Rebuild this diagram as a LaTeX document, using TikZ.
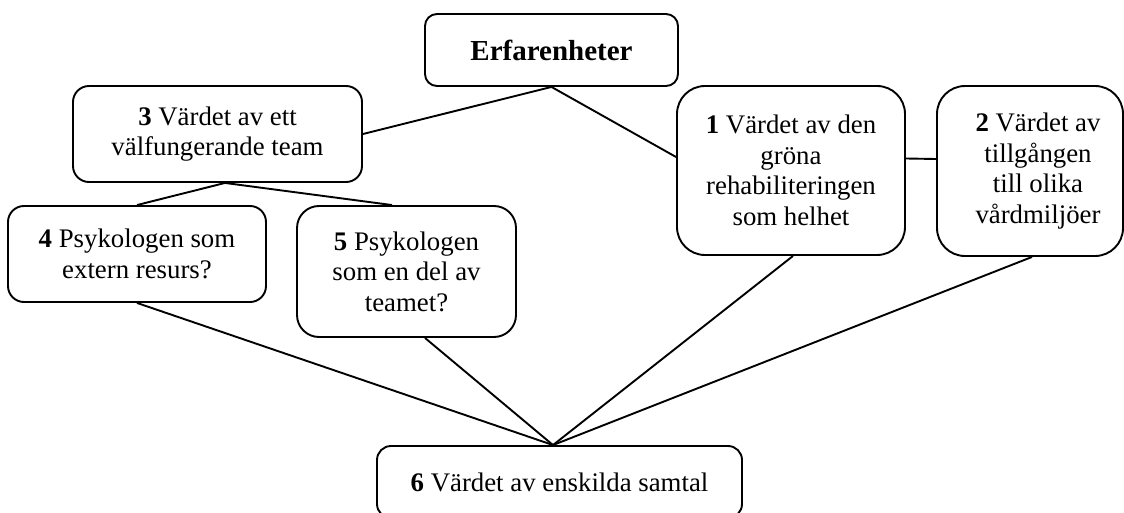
\documentclass[tikz,border=0pt]{standalone}
\usepackage{fontspec}
\setmainfont{Liberation Serif}
\begin{document}
\begin{tikzpicture}[x=1pt,y=1pt,
  box/.style={draw=black, line width=1.9pt, fill=white, inner sep=0pt, align=center,
    font=\fontsize{26.8}{30.5}\selectfont},
  txt/.style={inner sep=0pt, align=center, font=\fontsize{26.8}{30.5}\selectfont},
  link/.style={draw=black, line width=1.9pt}]
\path[use as bounding box] (0,0) rectangle (1124,-513);
\fill[white] (0,0) rectangle (1124,-513);
\clip (0,0) rectangle (1124,-513);

\node[box, rounded corners=12pt, minimum width=253pt, minimum height=72pt,
  font=\fontsize{29}{33}\selectfont\bfseries] (E) at (551.5,-50) {Erfarenheter};
\node[box, rounded corners=16pt, minimum width=289pt, minimum height=96pt] (B3) at (217.5,-134)
  {\textbf{3} Värdet av ett\\välfungerande team};
\node[box, rounded corners=28pt, minimum width=228pt, minimum height=169pt] (B1) at (791,-170.5)
  {\textbf{1} Värdet av den\\gröna\\rehabiliteringen\\som helhet};
\node[box, rounded corners=28pt, minimum width=186pt, minimum height=170pt] (B2) at (1030,-171) {};
\node[txt] (B2t) at (1038,-171) {\textbf{2} Värdet av\\tillgången\\till olika\\vårdmiljöer};
\node[box, rounded corners=16pt, minimum width=258pt, minimum height=96pt] (B4) at (137,-254)
  {\textbf{4} Psykologen som\\extern resurs?};
\node[box, rounded corners=22pt, minimum width=219pt, minimum height=131pt] (B5) at (406.5,-271.5)
  {\textbf{5} Psykologen\\som en del av\\teamet?};
\node[box, rounded corners=14pt, minimum width=365pt, minimum height=72pt] (B6) at (559.5,-482)
  {\textbf{6} Värdet av enskilda samtal};

\draw[link] (E.south) -- (B3.east);
\draw[link] (E.south) -- ([yshift=13.5pt]B1.west);
\draw[link] ([yshift=12pt]B1.east) -- ([yshift=12pt]B2.west);
\draw[link] ([xshift=7.5pt]B3.south) -- (B4.north);
\draw[link] ([xshift=7.5pt]B3.south) -- ([xshift=-14.5pt]B5.north);
\draw[link] (B4.south) -- ([xshift=-6.5pt]B6.north);
\draw[link] ([xshift=18.5pt]B5.south) -- ([xshift=-6.5pt]B6.north);
\draw[link] ([xshift=2pt]B1.south) -- ([xshift=-6.5pt]B6.north);
\draw[link] ([xshift=2pt]B2.south) -- ([xshift=-6.5pt]B6.north);
\end{tikzpicture}
\end{document}
